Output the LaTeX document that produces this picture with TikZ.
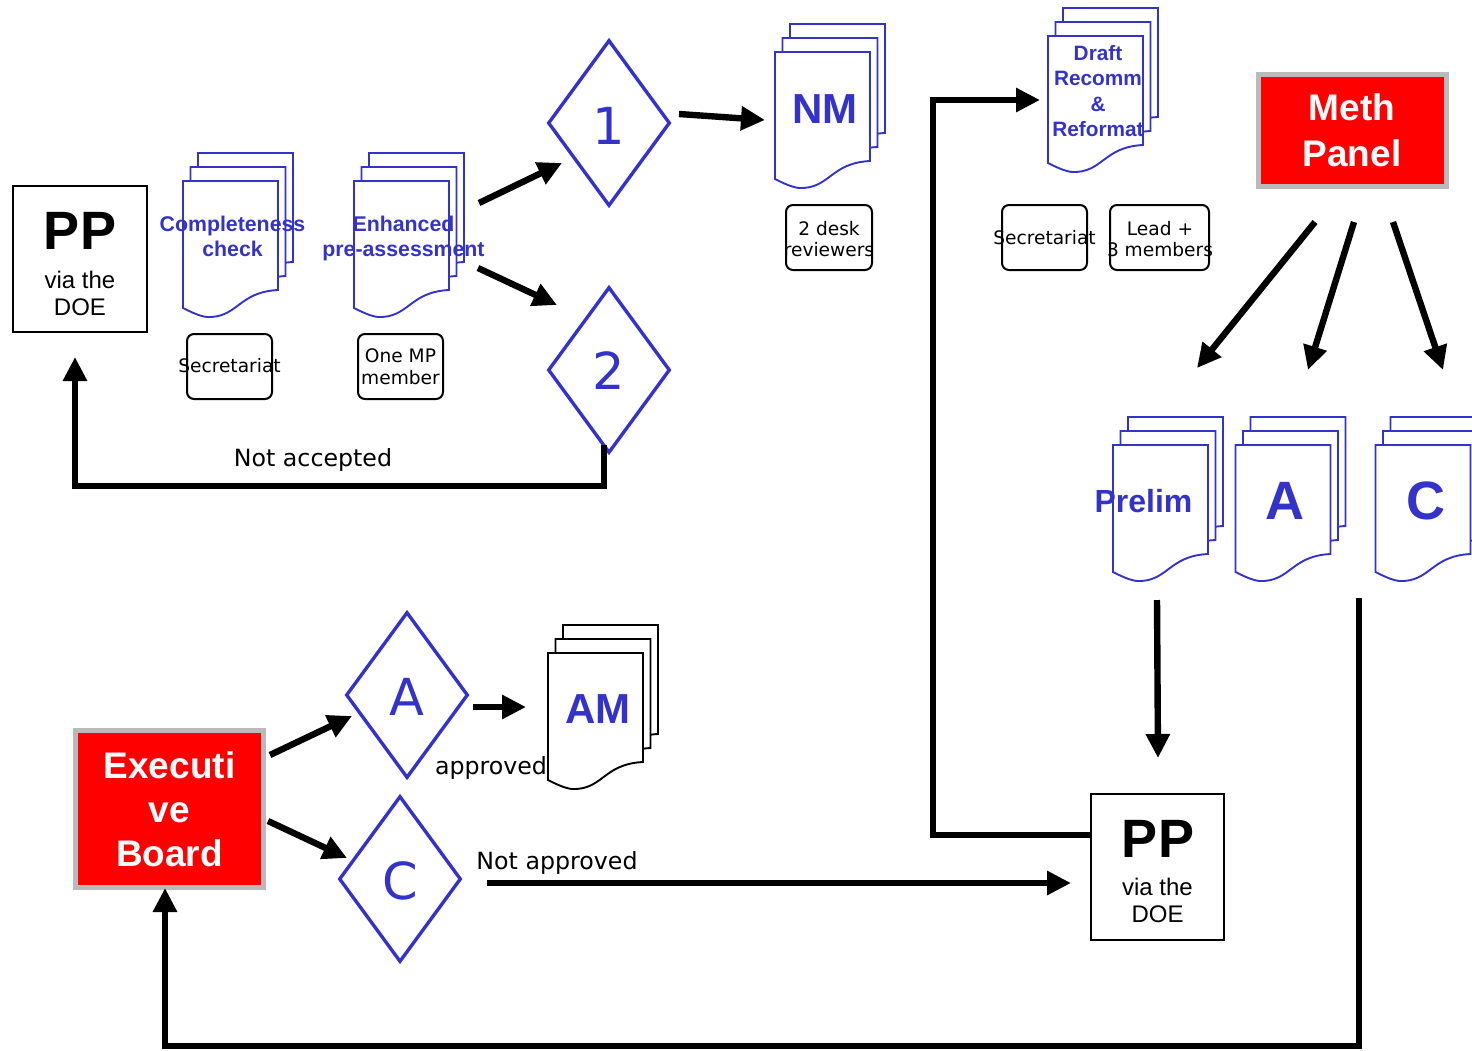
\documentclass[tikz,border=0pt]{standalone}
\usepackage{fontspec}
\setmainfont{Liberation Sans}
\newfontfamily\vfont{DejaVu Sans}
\usetikzlibrary{arrows.meta,shapes.geometric}
\definecolor{docblue}{RGB}{51,51,204}
\newcommand{\sheet}[3]{\draw[#3,fill=white,line width=1.9pt,line join=miter] (#1,#2) -- ({#1+95},#2) -- ({#1+95},{#2+109})
  .. controls ({#1+55},{#2+111}) and ({#1+55},{#2+137}) .. ({#1+24},{#2+136})
  .. controls ({#1+16},{#2+135}) and ({#1+8},{#2+131}) .. ({#1},{#2+127}) -- cycle;}
\newcommand{\docstack}[3]{%
  \sheet{#1+15}{#2-28}{#3}\sheet{#1+7.5}{#2-14}{#3}\sheet{#1}{#2}{#3}}
\newcommand{\fs}[1]{\fontsize{#1}{#1}\selectfont}
\tikzset{x=1pt,y=-1pt,
  conn/.style={line width=6.4pt,-{Triangle[length=24pt,width=23pt]},line join=miter},
  dec/.style={shape=diamond,draw=docblue,line width=3.4pt,fill=white,minimum width=122pt,minimum height=166pt,inner sep=0pt},
  dectext/.style={text=docblue,font=\vfont\fs{51},inner sep=0pt},
  red/.style={draw=black!27,line width=5pt,fill=red,text=white,align=center,font=\bfseries\fs{37},inner sep=0pt},
  pp/.style={draw=black,line width=2pt,fill=white,minimum width=134pt,minimum height=146pt},
  role/.style={draw=black,line width=2pt,rounded corners=7pt,minimum height=65pt,inner sep=0pt},
  lab/.style={font=\vfont\fs{18.6},align=center,inner sep=0pt,text=black},
  big/.style={font=\vfont\fs{23.7},inner sep=0pt,text=black},
  blue/.style={text=docblue,font=\bfseries\fs{21.3},align=center,inner sep=0pt},
  bigblue/.style={text=docblue,font=\bfseries\fs{42},inner sep=0pt}
}
\begin{document}
\begin{tikzpicture}
\useasboundingbox (0,0) rectangle (1472,1050);
% document stacks
\docstack{183}{181}{docblue}
\docstack{354}{181}{docblue}
\docstack{775}{52}{docblue}
\docstack{1048}{36}{docblue}
\docstack{1113}{445}{docblue}
\docstack{1235.5}{445}{docblue}
\docstack{1375.5}{445}{docblue}
\docstack{548}{653}{black}
% stack labels
\node[blue] (cc) at (232.5,236) {Completeness\\[3.5pt]check};
\node[blue] (ep) at (403.5,238.5) {Enhanced\\[3.5pt]pre-assessment};
\node[bigblue] (nm) at (825,109) {NM};
\node[blue,font=\bfseries\fs{20.8}] (dr) at (1098,91) {Draft\\[4.6pt]Recomm\\[4.6pt]\&\\[4.6pt]Reformat};
\node[blue,font=\bfseries\fs{32}] (pr) at (1143.5,501) {Prelim};
\node[bigblue,font=\bfseries\fs{54}] (da) at (1285,501) {A};
\node[bigblue,font=\bfseries\fs{54}] (dc) at (1425.5,501) {C};
\node[bigblue] (am) at (598,709) {AM};
% decisions
\node[dec] (d1) at (609,123) {};
\node[dec] (d2) at (609,370) {};
\node[dec] (da2) at (407,695) {};
\node[dec] (dc2) at (400,879) {};
\node[dectext] (d1t) at (609,125.5) {1};
\node[dectext] (d2t) at (609,371) {2};
\node[dectext] (da2t) at (407,697) {A};
\node[dectext] (dc2t) at (400.5,880.5) {C};
% PP boxes
\node[pp] (pp1) at (80,259) {};
\node[font=\bfseries\fs{54},inner sep=0pt] (pp1t) at (80,231) {PP};
\node[font=\fs{24},align=center,inner sep=0pt] (pp1s) at (80,293) {via the\\[3pt]DOE};
\node[pp,minimum width=133pt] (pp2) at (1157.5,867) {};
\node[font=\bfseries\fs{54},inner sep=0pt] (pp2t) at (1158,839) {PP};
\node[font=\fs{24},align=center,inner sep=0pt] (pp2s) at (1157.5,900.5) {via the\\[3pt]DOE};
% red boxes
\node[red,minimum width=188pt,minimum height=112pt] (meth) at (1352,130) {Meth\\[9pt]Panel};
\node[red,minimum width=188pt,minimum height=157pt] (exec) at (169.5,809) {Executi\\[7pt]ve\\[7pt]Board};
% role boxes
\node[role,minimum width=85pt] (r1) at (229.5,366.5) {};
\node[lab] (r1t) at (229.5,366) {Secretariat};
\node[role,minimum width=85pt] (r2) at (400.5,366.5) {};
\node[lab] (r2t) at (400.5,367) {One MP\\[3pt]member};
\node[role,minimum width=86pt] (r3) at (829,237.5) {};
\node[lab] (r3t) at (829,239) {2 desk\\[3pt]reviewers};
\node[role,minimum width=85pt] (r4) at (1044.5,237.5) {};
\node[lab] (r4t) at (1044.5,238) {Secretariat};
\node[role,minimum width=99pt] (r5) at (1159.5,237.5) {};
\node[lab] (r5t) at (1160,239) {Lead +\\[3pt]3 members};
% free connector ends
\foreach \n/\x/\y in {a1/479/203,a2/562/163,b1/478/268,b2/557/305,c1/679/114,c2/765/120,
  e1/604/445,e2/75/357,f1/933/835,f2/1040/100,g1/1315/222,g2/1197/368,h1/1354/222,h2/1308/370,
  i1/1393/222,i2/1443/370,j1/1157/600,j2/1158/758,k1/1359/598,k2/165/888,
  l1/270/755,l2/352/716,m1/268/821,m2/347/858,n1/473/707,n2/526/707,o1/487/883,o2/1071/883}
  {\coordinate (\n) at (\x,\y);}
% connectors
\draw[conn] (a1) -- (a2);
\draw[conn] (b1) -- (b2);
\draw[conn] (c1) -- (c2);
\draw[conn] (e1) -- (604,486) -- (75,486) -- (e2);
\draw[conn] (pp2.west|-f1) -- (f1) -- (933,100) -- (f2);
\draw[conn] (g1) -- (g2);
\draw[conn] (h1) -- (h2);
\draw[conn] (i1) -- (i2);
\draw[conn] (j1) -- (j2);
\draw[conn] (k1) -- (1359,1046) -- (165,1046) -- (k2);
\draw[conn] (l1) -- (l2);
\draw[conn] (m1) -- (m2);
\draw[conn] (n1) -- (n2);
\draw[conn] (o1) -- (o2);
% connector labels
\node[big] (na) at (313,460) {Not accepted};
\node[big] (ap) at (491,768) {approved};
\node[big] (nap) at (557,863) {Not approved};
\end{tikzpicture}
\end{document}
